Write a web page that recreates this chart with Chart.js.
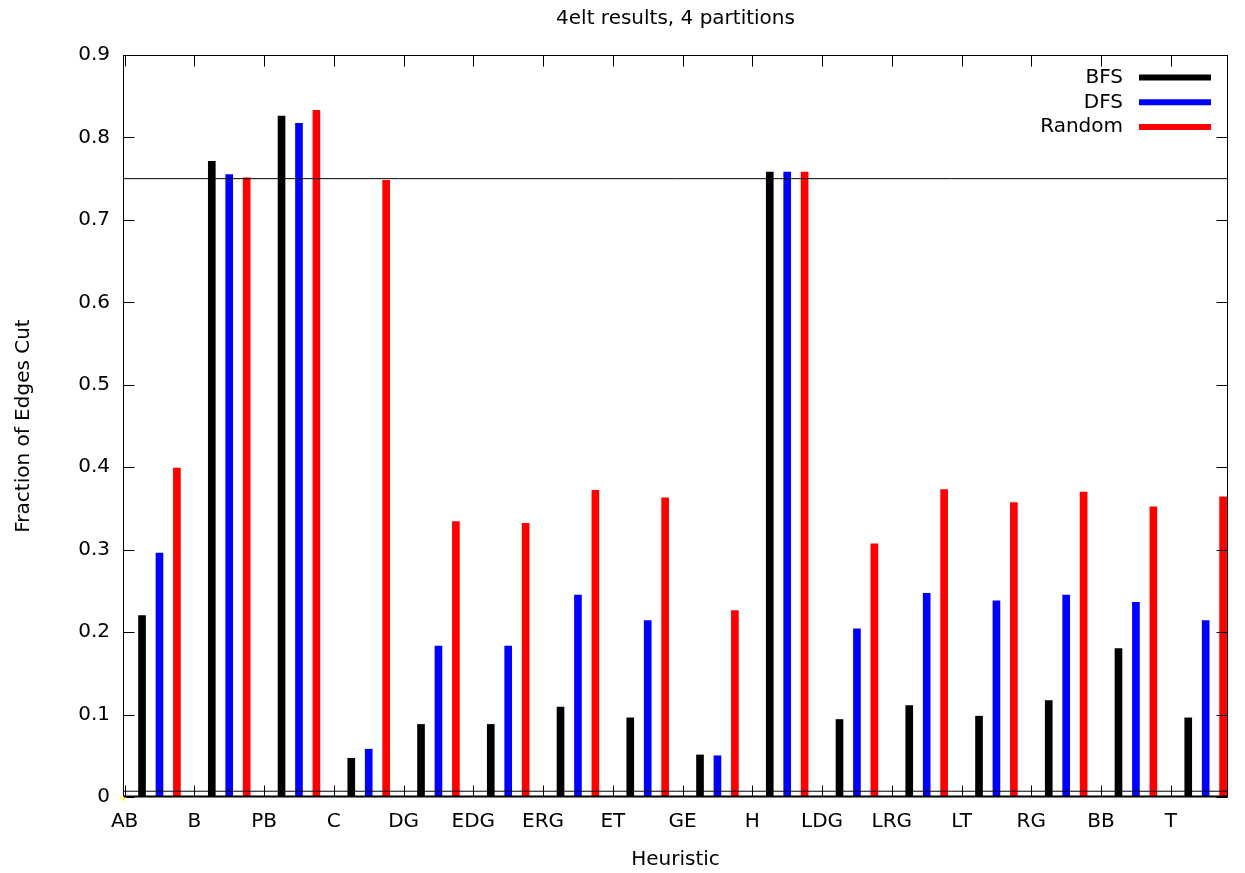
<!DOCTYPE html>
<html>
<head>
<meta charset="utf-8">
<title>4elt results, 4 partitions</title>
<script src="https://cdn.jsdelivr.net/npm/chart.js@4.4.1/dist/chart.umd.min.js"></script>
<style>
body{margin:0;background:#ffffff;}
#wrap{width:1245px;height:873px;}
</style>
</head>
<body>
<div id="wrap"><canvas id="cutChart" width="1245" height="873"></canvas></div>
<script>
// heuristics along the x axis
const categories = ["AB","B","PB","C","DG","EDG","ERG","ET","GE","H","LDG","LRG","LT","RG","BB","T"];

// fraction of edges cut, one value per heuristic
const bfs    = [0.220,0.771,0.826,0.047,0.088,0.088,0.109,0.096,0.051,0.758,0.094,0.111,0.098,0.117,0.180,0.096];
const dfs    = [0.296,0.755,0.817,0.058,0.183,0.183,0.245,0.214,0.050,0.758,0.204,0.247,0.238,0.245,0.236,0.214];
const random = [0.399,0.751,0.833,0.748,0.334,0.332,0.372,0.363,0.226,0.758,0.307,0.373,0.357,0.370,0.352,0.364];

const seriesNames = ["BFS","DFS","Random"];
const refLines = [0.75, 0.007];

const colors = ["#000000","#0000ff","#ff0000"];
const offsets = [0.25,0.5,0.75];
const xMin = -0.023, xMax = 15.82;
const FONT = "DejaVu Sans";

const allSeries = [bfs, dfs, random];

let datasets = seriesNames.map(function(name, s){
  return {
    type:'bar',
    label:name,
    data: allSeries[s].map(function(v, i){ return {x: i + offsets[s], y: v}; }),
    backgroundColor: colors[s],
    borderWidth: 0,
    barThickness: 7,
    grouped: false,
    order: 2
  };
});

refLines.forEach(function(v){
  datasets.push({
    type:'line',
    label:'ref',
    data:[{x:xMin, y:v},{x:xMax, y:v}],
    borderColor:'#000000',
    borderWidth:1,
    pointRadius:0,
    order: 1
  });
});

// gnuplot style frame, inward ticks, legend and titles
const gnuplotLook = {
  id:'gnuplotLook',
  afterDraw(chart){
    const ctx = chart.ctx;
    const a = chart.chartArea;
    const xs = chart.scales.x, ys = chart.scales.y;
    const L = Math.round(a.left)+0.5, R = Math.round(a.right)-0.5;
    const T = Math.round(a.top)+0.5, B = Math.round(a.bottom)-0.5;

    ctx.save();
    ctx.strokeStyle = '#000000';
    ctx.lineWidth = 1;
    ctx.strokeRect(L, T, R-L, B-T);

    ctx.lineWidth = 2;
    ctx.beginPath();
    ctx.moveTo(L, B); ctx.lineTo(R, B);
    ctx.stroke();

    ctx.lineWidth = 1;
    ctx.beginPath();
    ys.ticks.forEach(function(t){
      const y = Math.round(ys.getPixelForValue(t.value))+0.5;
      ctx.moveTo(L, y); ctx.lineTo(L+11, y);
      ctx.moveTo(R, y); ctx.lineTo(R-11, y);
    });
    xs.ticks.forEach(function(t){
      const x = Math.round(xs.getPixelForValue(t.value))+0.5;
      ctx.moveTo(x, B); ctx.lineTo(x, B-11);
      ctx.moveTo(x, T); ctx.lineTo(x, T+11);
    });
    ctx.stroke();

    // little yellow mark at the origin
    ctx.strokeStyle = '#ffff00';
    ctx.beginPath();
    ctx.moveTo(L-4, B+1.5); ctx.lineTo(L+3, B+1.5);
    ctx.moveTo(L, B); ctx.lineTo(L, B+5);
    ctx.stroke();

    // legend
    ctx.font = "20px '" + FONT + "'";
    ctx.fillStyle = '#000000';
    ctx.textAlign = 'right';
    ctx.textBaseline = 'middle';
    seriesNames.forEach(function(name, s){
      const y = a.top + 22.5 + s*24.8;
      ctx.fillText(name, a.right - 105, y);
      ctx.strokeStyle = colors[s];
      ctx.lineWidth = 6;
      ctx.beginPath();
      ctx.moveTo(a.right - 89, y); ctx.lineTo(a.right - 17, y);
      ctx.stroke();
    });

    // titles
    ctx.textAlign = 'center';
    ctx.textBaseline = 'alphabetic';
    ctx.fillText("4elt results, 4 partitions", (a.left + a.right)/2, 24);
    ctx.fillText("Heuristic", (a.left + a.right)/2, 865);
    ctx.save();
    ctx.translate(29, (a.top + a.bottom)/2);
    ctx.rotate(-Math.PI/2);
    ctx.fillText("Fraction of Edges Cut", 0, 0);
    ctx.restore();

    ctx.restore();
  }
};

new Chart(document.getElementById('cutChart'), {
  data:{ datasets: datasets },
  options:{
    responsive:false,
    animation:false,
    layout:{ padding:{ top:55, right:17, left:0, bottom:0 } },
    plugins:{
      legend:{ display:false },
      tooltip:{ enabled:false },
      title:{ display:false }
    },
    scales:{
      x:{
        type:'linear',
        position:'bottom',
        offset:false,
        min:xMin,
        max:xMax,
        grid:{ display:false, drawTicks:false, offset:false },
        border:{ display:false },
        ticks:{
          stepSize:1,
          includeBounds:false,
          autoSkip:false,
          maxRotation:0,
          padding:13,
          color:'#000000',
          font:{ family:FONT, size:20 },
          callback:function(v){ return categories[v]; }
        },
        afterFit:function(s){ s.height = 76; }
      },
      y:{
        min:0,
        max:0.9,
        grid:{ display:false, drawTicks:false },
        border:{ display:false },
        ticks:{
          stepSize:0.1,
          padding:13,
          color:'#000000',
          font:{ family:FONT, size:20 },
          callback:function(v){ return v === 0 ? "0" : v.toFixed(1); }
        },
        afterFit:function(s){ s.width = 123; }
      }
    }
  },
  plugins:[gnuplotLook]
});
</script>
</body>
</html>
